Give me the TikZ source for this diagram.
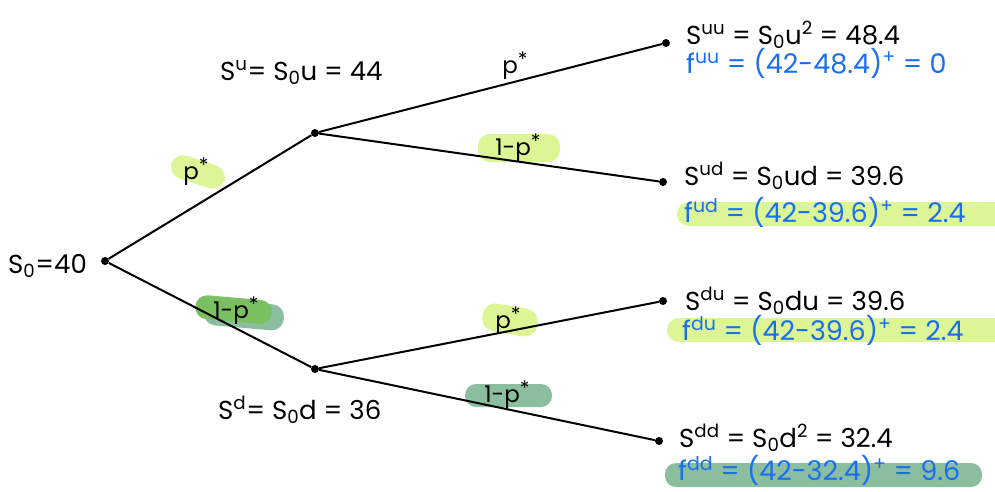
\documentclass[tikz,border=0pt]{standalone}
\usepackage{fontspec}
\setmainfont{Poppins}
\definecolor{lime}{RGB}{220,246,150}
\definecolor{tealg}{RGB}{138,190,158}
\definecolor{darkg}{RGB}{122,192,98}
\definecolor{fblue}{RGB}{26,110,240}
\newcommand{\pst}{p\raisebox{0.3em}{\fontsize{20}{20}\selectfont *}}
\begin{document}
\begin{tikzpicture}[x=1pt,y=-1pt,
  dot/.style={circle,fill=black,inner sep=0pt,minimum size=8pt},
  edge/.style={line width=2pt},
  lbl/.style={font=\fontsize{26}{30}\selectfont,inner sep=0pt,anchor=base west},
  flbl/.style={lbl,font=\fontsize{27}{30}\selectfont,text=fblue},
  plbl/.style={font=\fontsize{23}{26}\selectfont,inner sep=0pt}]
\useasboundingbox (0,0) rectangle (995,491);

% highlight bands
\fill[lime,rounded corners=12pt] (677,202) rectangle (1010,226);
\fill[lime,rounded corners=12pt] (667,318) rectangle (1010,342);
\fill[tealg,rounded corners=11pt] (665,463) rectangle (982,487);
% edge label blobs
\fill[lime,rounded corners=13pt,rotate around={-18:(198,172)}] (170,160) rectangle (226,184);
\fill[tealg,rounded corners=12pt,rotate around={-5:(245,314)}] (204,302) rectangle (284,328);
\fill[darkg,rounded corners=12pt,rotate around={-5:(238,311)}] (195,298) rectangle (272,322);
\fill[lime,rounded corners=12pt] (478,134) rectangle (560,162);
\fill[lime,rounded corners=13pt,rotate around={-10:(510,320)}] (482,306) rectangle (538,334);
\fill[tealg,rounded corners=11pt] (465,384) rectangle (552,407);

% tree nodes
\node[dot] (s0) at (105,261) {};
\node[dot] (su) at (315,133) {};
\node[dot] (sd) at (315,369) {};
\node[dot] (suu) at (666,43) {};
\node[dot] (sud) at (663,182) {};
\node[dot] (sdu) at (663,301) {};
\node[dot] (sdd) at (659,441) {};

\draw[edge] (s0) -- (su);
\draw[edge] (s0) -- (sd);
\draw[edge] (su) -- (suu);
\draw[edge] (su) -- (sud);
\draw[edge] (sd) -- (sdu);
\draw[edge] (sd) -- (sdd);

% edge labels
\node[plbl] (l1) at (196,172) {\pst};
\node[plbl] (l2) at (236,311) {1-\pst};
\node[plbl] (l3) at (515,66) {\pst};
\node[plbl] (l4) at (518,148) {1-\pst};
\node[plbl] (l5) at (508,321) {\pst};
\node[plbl] (l6) at (507,395) {1-\pst};

% state texts
\node[lbl] (t0) at (8,273) {S\textsubscript{0}=40};
\node[lbl] (tu) at (220,80) {S\textsuperscript{u}= S\textsubscript{0}u = 44};
\node[lbl] (td) at (218,419) {S\textsuperscript{d}= S\textsubscript{0}d = 36};
\node[lbl] (tuu) at (686,44) {S\textsuperscript{uu} = S\textsubscript{0}u\textsuperscript{2} = 48.4};
\node[flbl] (fuu) at (686,73) {f\textsuperscript{uu} = (42-48.4)\textsuperscript{+} = 0};
\node[lbl] (tud) at (684,185) {S\textsuperscript{ud} = S\textsubscript{0}ud = 39.6};
\node[flbl] (fud) at (684,222) {f\textsuperscript{ud} = (42-39.6)\textsuperscript{+} = 2.4};
\node[lbl] (tdu) at (685,310) {S\textsuperscript{du} = S\textsubscript{0}du = 39.6};
\node[flbl] (fdu) at (682,340) {f\textsuperscript{du} = (42-39.6)\textsuperscript{+} = 2.4};
\node[lbl] (tdd) at (679,447) {S\textsuperscript{dd} = S\textsubscript{0}d\textsuperscript{2} = 32.4};
\node[flbl] (fdd) at (678,480) {f\textsuperscript{dd} = (42-32.4)\textsuperscript{+} = 9.6};
\end{tikzpicture}
\end{document}
